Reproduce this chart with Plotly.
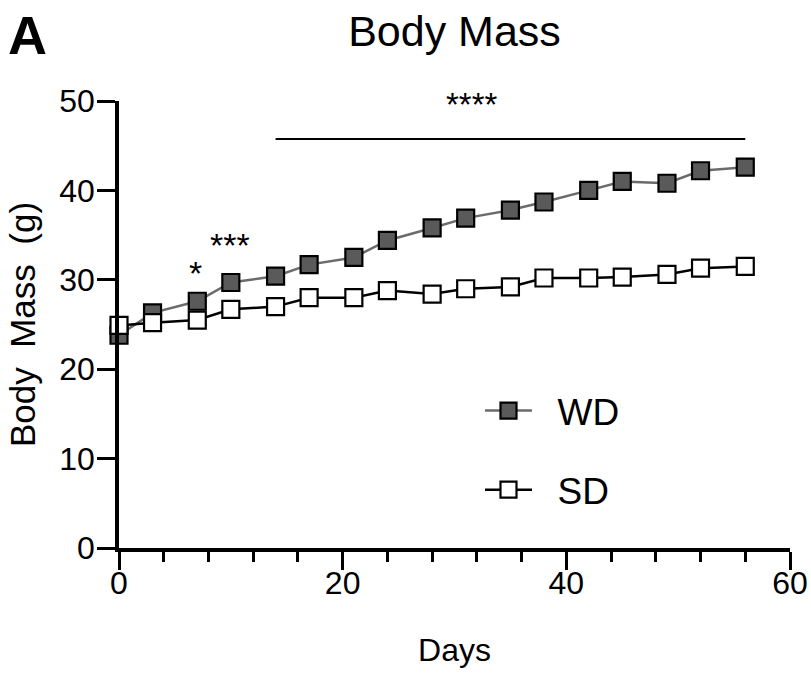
import plotly.graph_objects as go

days = [0, 3, 7, 10, 14, 17, 21, 24, 28, 31, 35, 38, 42, 45, 49, 52, 56]
wd_mass = [23.8, 26.3, 27.6, 29.7, 30.4, 31.7, 32.5, 34.4, 35.8, 36.9, 37.8, 38.7, 40.0, 41.0, 40.8, 42.2, 42.6]
sd_mass = [24.9, 25.2, 25.5, 26.7, 27.0, 28.0, 28.0, 28.8, 28.4, 29.0, 29.2, 30.2, 30.2, 30.3, 30.6, 31.3, 31.5]

sig_days = [6.8, 9.9]
sig_labels = ["*", "***"]
sig_y = [28.4, 31.6]
bar_start, bar_end, bar_y = 14, 56, 45.75
bar_label = "****"
bar_label_x = 31.6

x_ticks = [0, 20, 40, 60]
y_ticks = [0, 10, 20, 30, 40, 50]

FONT = "Liberation Sans, Arial, Helvetica, sans-serif"
NB = "\u00a0\u00a0"

fig = go.Figure()
fig.add_trace(go.Scatter(
    x=days, y=wd_mass, name=NB + "WD", mode="lines+markers",
    line=dict(color="#6b6b6b", width=2.5),
    marker=dict(symbol="square", size=17, color="#5a5a5a", line=dict(color="black", width=2.2)),
    cliponaxis=False, legendgroup="wd",
))
fig.add_trace(go.Scatter(
    x=days, y=sd_mass, name=NB + "SD", mode="lines+markers",
    line=dict(color="black", width=2.5),
    marker=dict(symbol="square", size=17, color="white", line=dict(color="black", width=2.2)),
    cliponaxis=False, legendgroup="sd",
))

for d, lab, yy in zip(sig_days, sig_labels, sig_y):
    fig.add_annotation(x=d, y=yy, text=lab, showarrow=False, xref="x", yref="y",
                       font=dict(family=FONT, size=34, color="black"), yanchor="bottom")

fig.add_shape(type="line", x0=bar_start, x1=bar_end, y0=bar_y, y1=bar_y, xref="x", yref="y",
              line=dict(color="black", width=2))
fig.add_annotation(x=bar_label_x, y=bar_y + 1.6, text=bar_label, showarrow=False,
                   xref="x", yref="y", font=dict(family=FONT, size=33, color="black"), yanchor="bottom")

fig.add_annotation(x=-0.168, y=1.1477, xref="paper", yref="paper", text="<b>A</b>", showarrow=False,
                   xanchor="left", yanchor="middle", font=dict(family=FONT, size=54, color="black"))

fig.update_layout(
    width=811, height=673,
    margin=dict(l=119, r=21, t=101, b=125, autoexpand=False),
    paper_bgcolor="white", plot_bgcolor="white",
    font=dict(family=FONT, color="black"),
    title=dict(text="Body Mass", x=0.5, xref="paper", xanchor="center", y=0.954, yanchor="middle",
               font=dict(family=FONT, size=43, color="black")),
    showlegend=True,
    legend=dict(x=0.538, y=0.3758, xanchor="left", yanchor="top", bgcolor="rgba(0,0,0,0)",
                font=dict(family=FONT, size=37, color="black"), tracegroupgap=28,
                traceorder="grouped", itemwidth=47),
    xaxis=dict(range=[0, 60], tickvals=x_ticks, ticks="outside", ticklen=18, tickwidth=3,
               tickcolor="black", showline=True, linecolor="black", linewidth=3.5,
               showgrid=False, zeroline=False, tickfont=dict(family=FONT, size=32), automargin=False,
               ticklabelstandoff=-14,
               title=dict(text="Days", font=dict(family=FONT, size=32), standoff=39),
               minor=dict(dtick=4, ticks="outside", ticklen=10, tickwidth=3, tickcolor="black", showgrid=False)),
    yaxis=dict(range=[0, 50], tickvals=y_ticks, ticks="outside", ticklen=18, tickwidth=3,
               tickcolor="black", showline=True, linecolor="black", linewidth=3.5,
               showgrid=False, zeroline=False, tickfont=dict(family=FONT, size=32), automargin=False,
               ticklabelstandoff=-4,
               title=dict(text="Body  Mass  (g)", font=dict(family=FONT, size=35), standoff=14)),
)

fig.write_html(
    "out.html",
    config={"displayModeBar": False},
    post_script="document.body.style.margin='0';document.body.style.overflow='hidden';"
                "document.documentElement.style.overflow='hidden';",
)
